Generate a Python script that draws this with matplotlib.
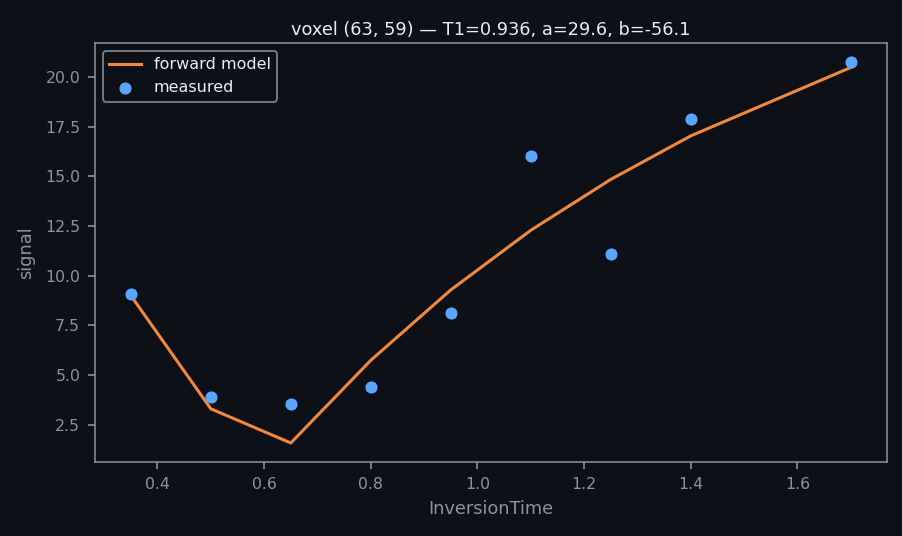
import numpy as np
import matplotlib
matplotlib.use("Agg")
import matplotlib.pyplot as plt

# inversion times and signals
inversion_time = [0.35, 0.5, 0.65, 0.8, 0.95, 1.1, 1.25, 1.4, 1.7]
model_signal = [9.0, 3.3, 1.58, 5.74, 9.28, 12.28, 14.84, 17.03, 20.47]
measured_signal = [9.1, 3.9, 3.55, 4.4, 8.1, 16.0, 11.1, 17.9, 20.75]

BG = "#0d1117"
FG = "#e6edf3"
MUTED = "#8b949e"

fig, ax = plt.subplots(figsize=(9.03, 5.36), dpi=100)
fig.patch.set_facecolor(BG)
ax.set_facecolor(BG)

ax.plot(inversion_time, model_signal, color="#f0883e", linewidth=2.2, label="forward model")
ax.scatter(inversion_time, measured_signal, color="#58a6ff", s=60, zorder=3, label="measured")

ax.set_title("voxel (63, 59) — T1=0.936, a=29.6, b=-56.1", color=FG, fontsize=12.8, pad=6)
ax.set_xlabel("InversionTime", color=MUTED, fontsize=12.8, labelpad=6)
ax.set_ylabel("signal", color=MUTED, fontsize=12.8, labelpad=7)
ax.tick_params(colors=MUTED, labelsize=11.3, length=5, width=1.2, pad=5.5)
for spine in ax.spines.values():
    spine.set_color("#8b949e")
    spine.set_linewidth(1.1)

leg = ax.legend(loc="upper left", facecolor=BG, edgecolor=MUTED, labelcolor=FG, fontsize=11.5)
leg.get_frame().set_linewidth(1.4)

fig.subplots_adjust(left=0.105, right=0.982, top=0.92, bottom=0.138)
fig.savefig("out.png", dpi=100, facecolor=BG)
